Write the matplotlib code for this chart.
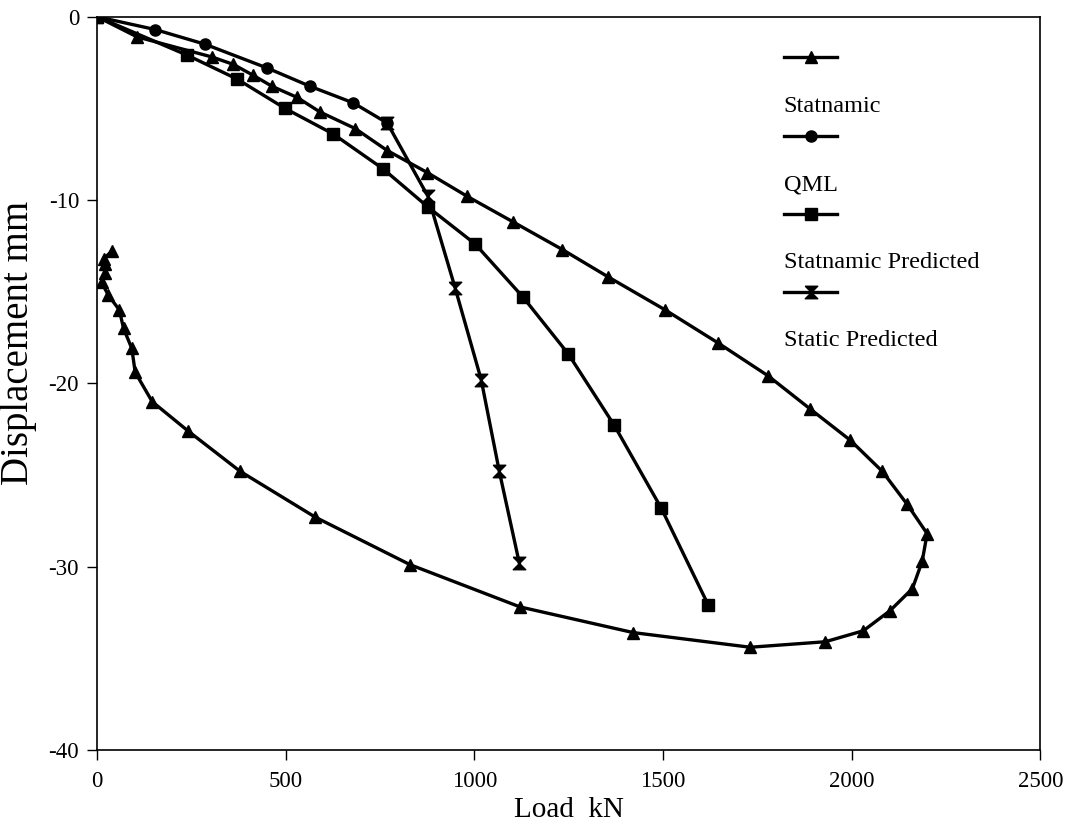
from matplotlib import pyplot as plt
from matplotlib.lines import Line2D
from matplotlib.path import Path
from matplotlib.transforms import ScaledTranslation

# Statnamic test curve (load kN, displacement mm) - loop back to the rebound point
statnamic_load = [0, 106, 305, 361, 414, 464, 530, 591, 684, 769, 875, 981, 1103, 1233, 1355,
                  1506, 1646, 1779, 1890, 1996, 2081, 2147, 2200, 2187, 2161, 2102, 2031, 1930,
                  1731, 1421, 1121, 830, 578, 379, 241, 146, 101, 92, 70, 59, 30, 12, 21, 21, 17, 39]
statnamic_disp = [0, -1.1, -2.2, -2.6, -3.2, -3.8, -4.4, -5.2, -6.1, -7.3, -8.5, -9.8, -11.2, -12.7,
                  -14.2, -16.0, -17.8, -19.6, -21.4, -23.1, -24.8, -26.6, -28.2, -29.7, -31.2, -32.4,
                  -33.5, -34.1, -34.4, -33.6, -32.2, -29.9, -27.3, -24.8, -22.6, -21.0, -19.4, -18.1,
                  -17.0, -16.0, -15.2, -14.5, -14.0, -13.5, -13.2, -12.8]

qml_load = [0, 154, 286, 451, 565, 679, 769]
qml_disp = [0, -0.7, -1.5, -2.8, -3.8, -4.7, -5.8]

stat_pred_load = [0, 239, 371, 498, 626, 758, 878, 1002, 1129, 1249, 1371, 1495, 1620]
stat_pred_disp = [0, -2.1, -3.4, -5.0, -6.4, -8.3, -10.4, -12.4, -15.3, -18.4, -22.3, -26.8, -32.1]

static_pred_load = [769, 877, 949, 1018, 1066, 1119]
static_pred_disp = [-5.8, -9.8, -14.8, -19.8, -24.8, -29.8]

labels = ['Statnamic', 'QML', 'Statnamic Predicted', 'Static Predicted']

plt.rcParams['font.family'] = ['Liberation Serif', 'DejaVu Serif']
plt.rcParams['axes.unicode_minus'] = False

# hourglass marker for the static prediction
hourglass = Path([(-1, 1), (1, 1), (0, 0), (1, -1), (-1, -1), (0, 0), (-1, 1)])

fig = plt.figure(figsize=(10.67, 8.36), dpi=100)
ax = fig.add_axes([0.091, 0.103, 0.884, 0.877])

lw = 2.4
l1, = ax.plot(statnamic_load, statnamic_disp, color='black', lw=lw, marker='^', ms=9)
l2, = ax.plot(qml_load, qml_disp, color='black', lw=lw, marker='o', ms=8)
l3, = ax.plot(stat_pred_load, stat_pred_disp, color='black', lw=lw, marker='s', ms=8)
l4, = ax.plot(static_pred_load, static_pred_disp, color='black', lw=lw, marker=hourglass, ms=9)

ax.set_xlim(0, 2500)
ax.set_ylim(-40, 0)
ax.set_xticks([0, 500, 1000, 1500, 2000, 2500])
ax.set_yticks([0, -10, -20, -30, -40])
ax.tick_params(direction='out', length=7, width=1, labelsize=16.5, top=False, right=False)
ax.tick_params(axis='x', pad=8)
ax.tick_params(axis='y', pad=6)
for s in ax.spines.values():
    s.set_linewidth(1.2)

ax.set_xlabel('Load  kN', fontsize=21)
ax.xaxis.set_label_coords(0.5, -0.064)
ax.set_ylabel('Displacement mm', fontsize=28)
ax.yaxis.set_label_coords(-0.064, 0.555)

# legend: line sample on one row, its label on the row below
blank = Line2D([], [], color='none')
handles = []
leg_labels = []
for h, lab in zip([l1, l2, l3, l4], labels):
    handles += [h, blank]
    leg_labels += ['', lab]
leg = ax.legend(handles, leg_labels, loc='upper left', bbox_to_anchor=(0.728, 0.956),
                frameon=False, fontsize=17.5, handlelength=2.2, handletextpad=-2.2,
                labelspacing=0.70, borderpad=0, borderaxespad=0)
# push the label texts a little below their row
shift = ScaledTranslation(0, -5 / 72, fig.dpi_scale_trans)
for t in leg.get_texts():
    t.set_transform(t.get_transform() + shift)

plt.savefig('out.png', dpi=100)
